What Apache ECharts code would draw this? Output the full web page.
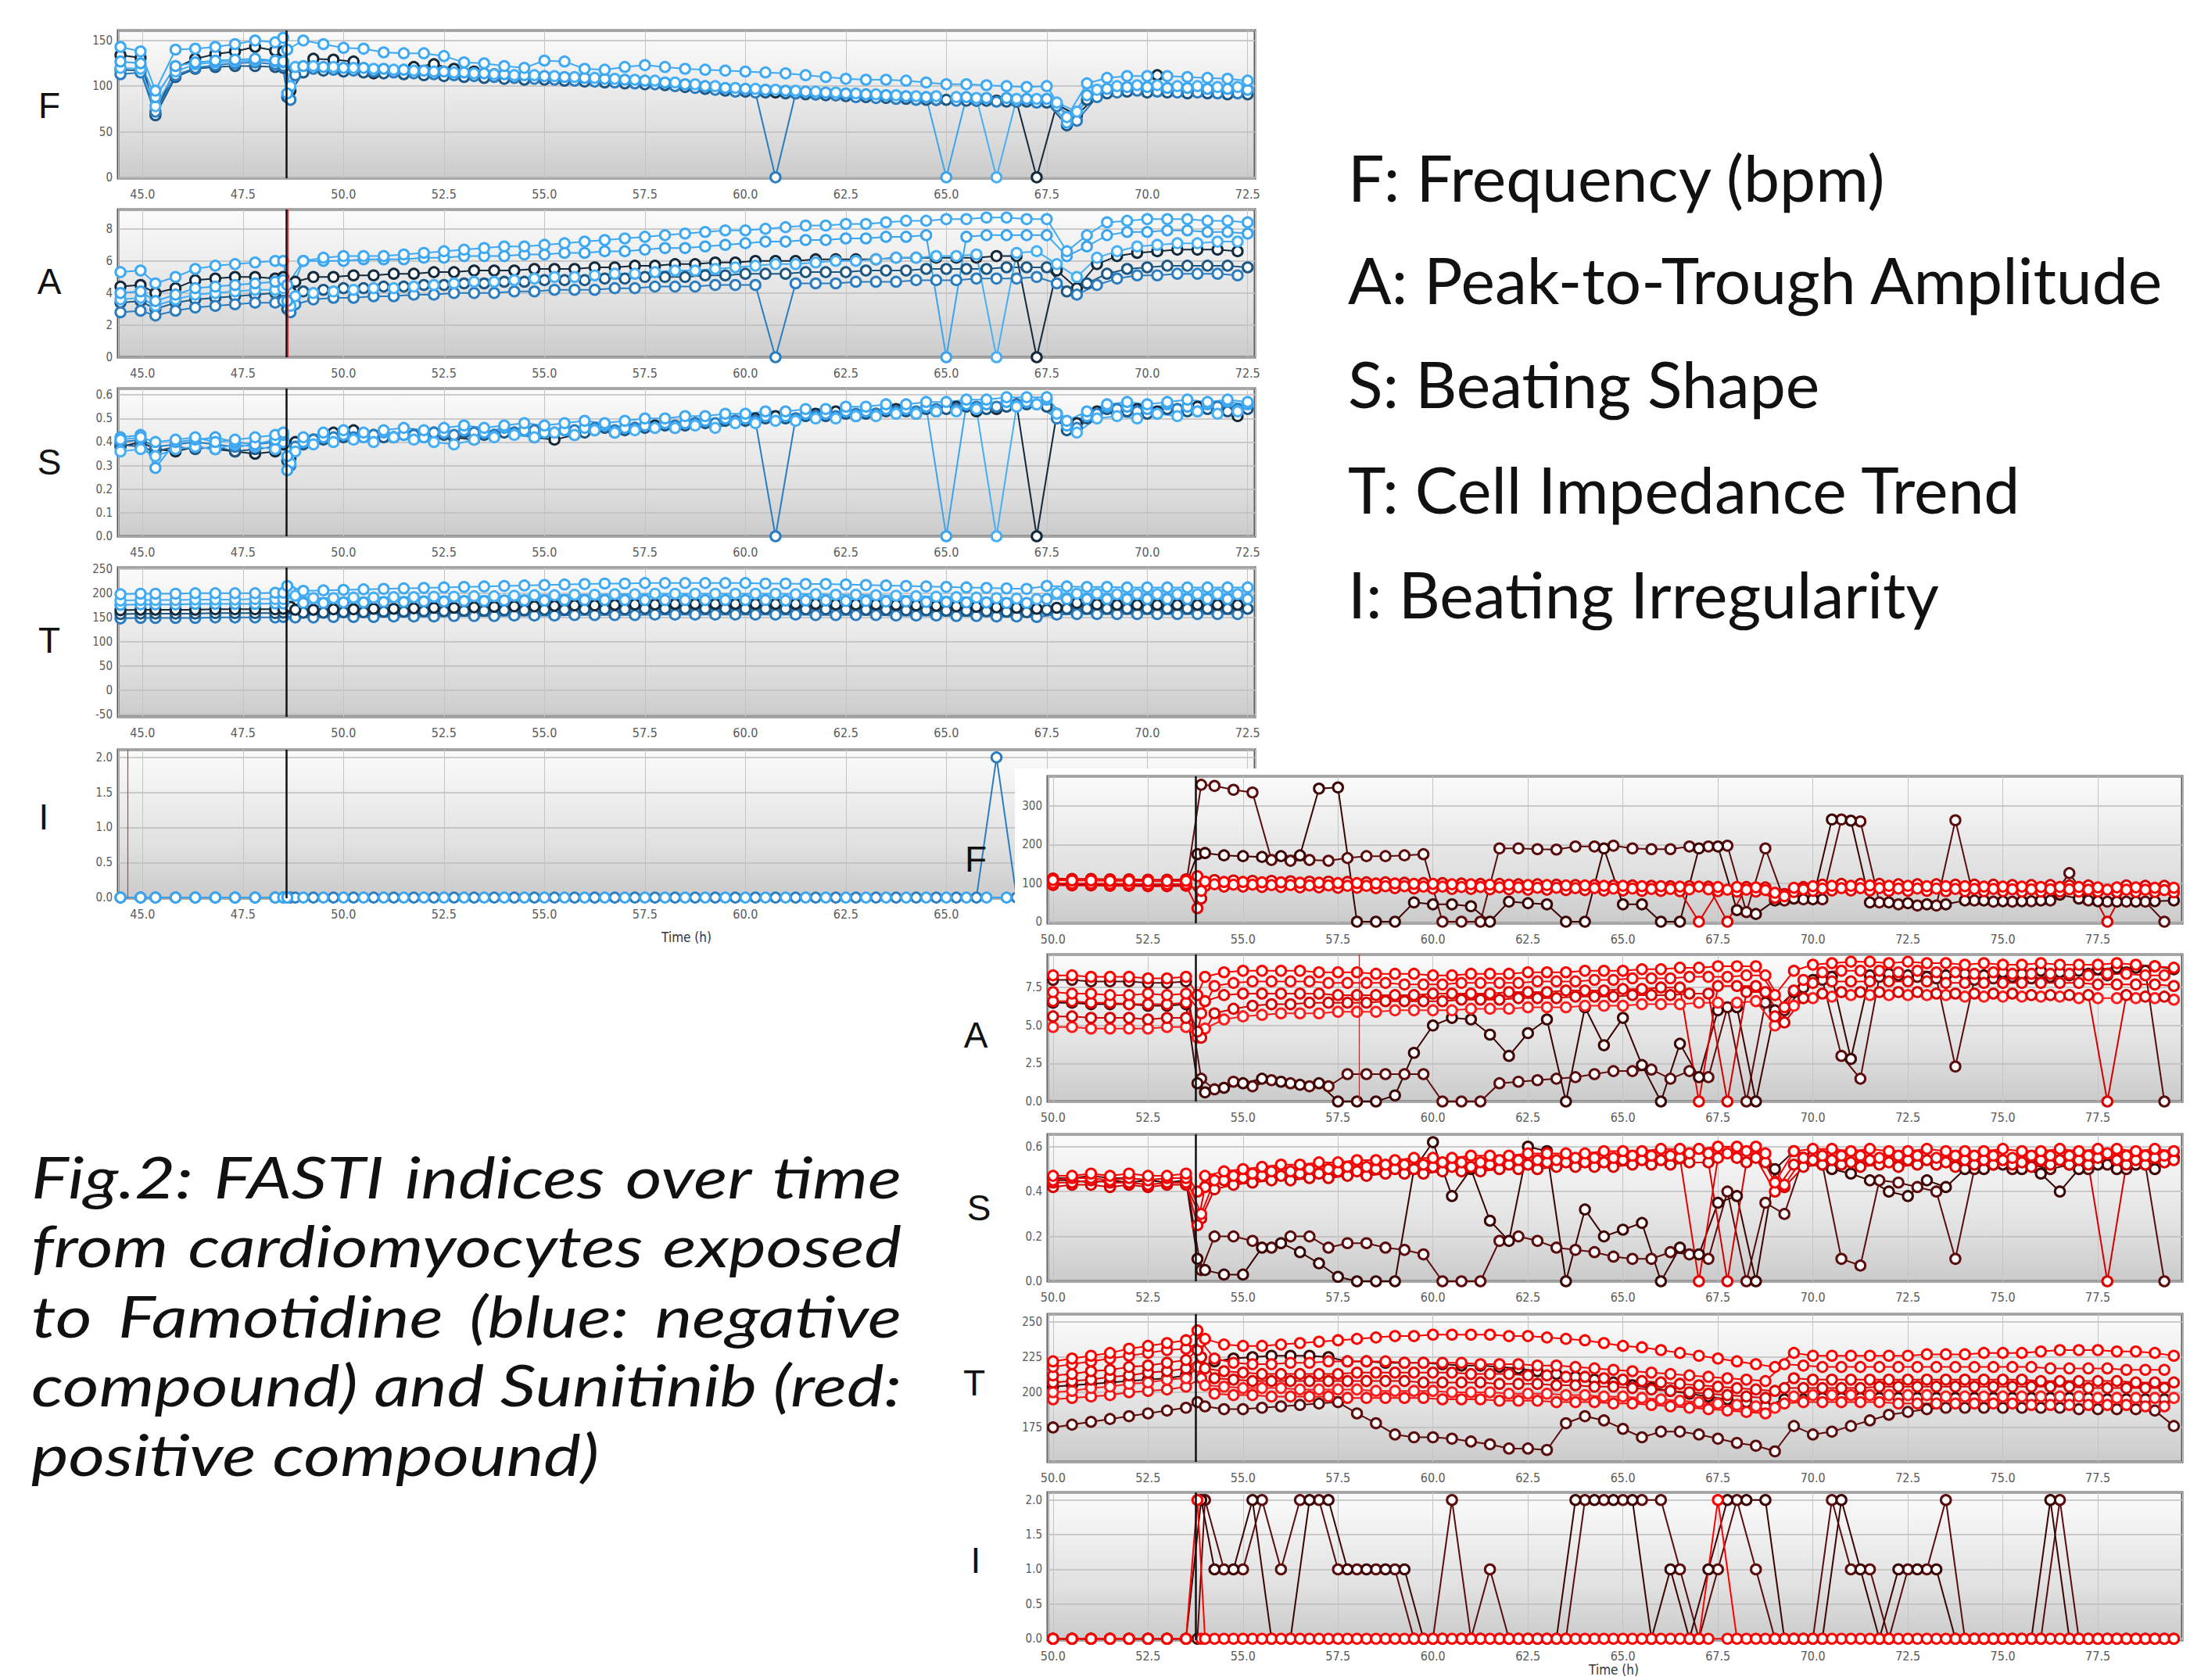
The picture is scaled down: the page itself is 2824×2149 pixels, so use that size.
<!DOCTYPE html>
<html>
<head>
<meta charset="utf-8">
<title>FASTI indices over time</title>
<script src="https://cdn.jsdelivr.net/npm/echarts@6/dist/echarts.min.js"></script>
<style>
  html, body { margin: 0; padding: 0; background: #fff; }
  #page { position: relative; width: 2824px; height: 2149px; overflow: hidden; background: #fff; }
  #chartBlue { position: absolute; left: 0; top: 0; width: 2824px; height: 2149px; }
  /* the red figure sits on top of the blue one, on a white card */
  #cover { position: absolute; left: 1298px; top: 983px; width: 1526px; height: 1166px; background: #fff; }
  #chartRed { position: absolute; left: 1230px; top: 970px; width: 1594px; height: 1179px; }
</style>
</head>
<body>
<div id="page">
  <div id="chartBlue"></div>
  <div id="cover"></div>
  <div id="chartRed"></div>
</div>
<script>
// ---------- time points (h) ----------
const blueT1 = [44.45,44.95,45.32,45.82,46.31,46.81,47.3,47.8,48.3,48.5,
  48.6,49,49.5,50,50.5,51,51.5,52,52.5,53,
  53.5,54,54.5,55,55.5,56,56.5,57,57.5,58,
  58.5,59,59.5,60,60.5,61,61.5,62,62.5,63,
  63.5,64,64.5,65,65.5,66,66.5,67,67.5,68,
  68.5,69,69.5,70,70.5,71,71.5,72,72.5];
const blueT2 = [44.45,44.95,45.32,45.82,46.31,46.81,47.3,47.8,48.3,48.5,
  48.68,48.8,49.25,49.75,50.25,50.75,51.25,51.75,52.25,52.75,
  53.25,53.75,54.25,54.75,55.25,55.75,56.25,56.75,57.25,57.75,
  58.25,58.75,59.25,59.75,60.25,60.75,61.25,61.75,62.25,62.75,
  63.25,63.75,64.25,64.75,65.25,65.75,66.25,66.75,67.25,67.75,
  68.25,68.75,69.25,69.75,70.25,70.75,71.25,71.75,72.25];
const redT1 = [50,50.5,51,51.5,52,52.5,53,53.5,53.8,
  54,54.5,55,55.5,56,56.5,57,57.5,58,58.5,
  59,59.5,60,60.5,61,61.5,62,62.5,63,63.5,
  64,64.5,65,65.5,66,66.5,67,67.5,68,68.5,
  69,69.5,70,70.5,71,71.5,72,72.5,73,73.5,
  74,74.5,75,75.5,76,76.5,77,77.5,78,78.5,
  79,79.5];
const redT2 = [50,50.5,51,51.5,52,52.5,53,53.5,53.9,
  54.25,54.75,55.25,55.75,56.25,56.75,57.25,57.75,58.25,58.75,
  59.25,59.75,60.25,60.75,61.25,61.75,62.25,62.75,63.25,63.75,
  64.25,64.75,65.25,65.75,66.25,66.75,67.25,67.75,68.25,68.75,
  69.25,69.75,70.25,70.75,71.25,71.75,72.25,72.75,73.25,73.75,
  74.25,74.75,75.25,75.75,76.25,76.75,77.25,77.75,78.25,78.75,
  79.25];

// ---------- Famotidine (blue) ----------
// F: frequency (bpm)
const bF_navy = [134,131,70,120,130,135,138,143,139,138,
  95,118,130,129,127,114,116,121,124,119,
  116,113,111,110,109,108,106,105,104,103,
  101,99,97,95,94,93,92,91,90,89,
  88,87,86,85,85,84,84,83,0,80,
  68,90,95,98,112,97,96,95,94];
const bF_dark = [118,117,68,110,119,121,122,122,121,120,
  88,115,117,116,115,114,113,112,111,110,
  109,108,107,107,106,105,104,103,102,101,
  99,97,95,94,93,92,91,90,89,88,
  87,86,85,85,84,84,83,83,82,57,
  85,92,94,93,93,92,92,91,91];
const bF_med = [113,115,72,112,120,123,125,126,124,122,
  85,112,119,118,117,116,115,114,113,112,
  111,110,109,108,107,106,105,104,103,102,
  100,98,96,94,93,0,92,91,90,88,
  87,86,85,85,84,84,83,83,82,78,
  62,88,93,95,94,93,93,92,92];
const bF_lightA = [127,125,88,122,126,128,129,130,128,127,
  92,122,121,120,120,119,118,117,116,115,
  114,113,112,111,110,109,108,107,106,104,
  102,100,98,97,96,95,94,93,92,91,
  90,89,88,0,88,87,87,86,86,60,
  90,97,99,99,98,98,97,97,96];
const bF_lightB = [120,119,78,116,124,126,127,128,127,126,
  100,121,122,121,120,119,118,117,116,115,
  114,113,112,112,111,110,109,108,107,106,
  104,102,100,98,97,96,95,94,93,92,
  91,90,89,89,88,87,0,86,86,82,
  72,96,100,101,101,100,100,99,99];
const bF_top = [143,138,95,140,141,143,146,150,148,153,
  140,150,146,142,141,137,136,136,133,126,
  125,122,120,128,127,119,118,121,123,121,
  119,118,117,116,115,114,112,110,108,107,
  107,106,104,102,102,101,100,99,100,66,
  103,109,111,111,111,110,109,108,106];

// A: peak-to-trough amplitude
const bA_navy = [4.4,4.5,4.0,4.3,4.8,4.9,5.0,5.0,4.9,5.0,
  4.1,4.7,5.0,5.0,5.1,5.1,5.2,5.2,5.3,5.3,
  5.4,5.4,5.4,5.5,5.5,5.5,5.6,5.6,5.7,5.7,
  5.8,5.8,5.9,5.9,6.0,6.0,6.0,6.1,6.1,6.1,
  6.1,6.2,6.2,6.2,6.2,6.2,6.3,6.3,0,5.4,
  4.3,5.8,6.3,6.5,6.6,6.7,6.7,6.7,6.6];
const bA_dark = [3.4,3.5,3.0,3.4,3.6,3.7,3.8,3.9,4.0,4.1,
  3.0,4.1,4.2,4.3,4.3,4.4,4.4,4.5,4.5,4.6,
  4.6,4.7,4.7,4.8,4.8,4.8,4.9,4.9,5.0,5.0,
  5.0,5.1,5.1,5.2,5.2,5.2,5.3,5.3,5.3,5.4,
  5.4,5.4,5.5,5.5,5.5,5.5,5.6,5.6,5.6,4.1,
  4.6,5.2,5.5,5.6,5.7,5.7,5.7,5.7,5.6];
const bA_med = [2.8,2.9,2.6,2.9,3.1,3.2,3.3,3.4,3.4,3.5,
  2.8,3.3,3.6,3.7,3.7,3.8,3.8,3.9,3.9,4.0,
  4.0,4.0,4.1,4.1,4.2,4.2,4.2,4.3,4.3,4.4,
  4.4,4.4,4.5,4.5,4.5,0,4.6,4.6,4.6,4.7,
  4.7,4.7,4.8,4.8,4.8,4.9,4.9,4.9,5.0,4.6,
  3.9,4.5,4.9,5.1,5.1,5.2,5.2,5.2,5.1];
const bA_lightA = [4.0,4.1,3.5,3.9,4.3,4.4,4.5,4.6,4.7,4.8,
  3.5,6.0,6.0,6.0,6.1,6.1,6.1,6.2,6.2,6.3,
  6.3,6.3,6.4,6.4,6.5,6.5,6.6,6.6,6.7,6.8,
  6.8,6.9,7.0,7.1,7.2,7.2,7.3,7.3,7.4,7.4,
  7.5,7.5,7.6,0,7.5,7.6,7.6,7.6,7.6,6.3,
  6.9,7.6,7.8,7.8,7.9,7.9,7.8,7.8,7.7];
const bA_lightB = [3.6,3.7,3.2,3.6,3.9,4.0,4.1,4.2,4.2,4.3,
  3.2,3.8,4.0,4.1,4.2,4.3,4.3,4.4,4.5,4.6,
  4.7,4.7,4.8,4.9,5.0,5.0,5.1,5.2,5.2,5.3,
  5.4,5.4,5.5,5.6,5.7,5.8,5.8,5.9,6.0,6.0,
  6.1,6.2,6.2,6.3,6.3,6.4,0,6.5,6.6,5.8,
  5.0,6.2,6.6,6.9,7.0,7.1,7.1,7.2,7.2];
const bA_top = [5.3,5.4,4.6,5.0,5.5,5.7,5.8,5.9,6.0,6.0,
  4.5,6.0,6.2,6.3,6.3,6.3,6.4,6.5,6.6,6.7,
  6.8,6.9,6.9,7.0,7.1,7.2,7.3,7.4,7.5,7.6,
  7.7,7.8,7.9,7.9,8.0,8.1,8.2,8.2,8.3,8.3,
  8.4,8.5,8.5,8.6,8.6,8.7,8.7,8.6,8.6,6.6,
  7.6,8.4,8.5,8.6,8.6,8.6,8.5,8.5,8.4];

// S: beating shape
const bS_navy = [.38,.40,.37,.36,.38,.37,.36,.35,.36,.39,
  .33,.40,.41,.44,.45,.43,.42,.43,.44,.42,
  .41,.43,.44,.42,.41,.43,.45,.44,.46,.47,
  .46,.48,.47,.49,.50,.51,.50,.52,.53,.51,
  .52,.54,.52,.53,.55,.53,.54,.56,0,.52,
  .48,.53,.52,.54,.53,.54,.55,.53,.51];
const bS_dark = [.39,.38,.36,.38,.37,.38,.36,.37,.38,.40,
  .32,.39,.41,.42,.43,.42,.43,.44,.43,.44,
  .43,.44,.45,.44,.45,.44,.46,.45,.46,.47,
  .47,.48,.49,.49,.50,.50,.51,.51,.52,.52,
  .53,.53,.54,.54,.55,.54,.55,.56,.55,.45,
  .50,.54,.53,.52,.54,.53,.54,.53,.54];
const bS_med = [.40,.41,.38,.39,.40,.39,.38,.39,.40,.41,
  .30,.38,.41,.42,.42,.43,.42,.43,.44,.43,
  .44,.43,.44,.45,.44,.45,.46,.45,.46,.46,
  .47,.48,.48,.49,.49,0,.50,.51,.51,.52,
  .52,.53,.53,.54,.54,.55,.55,.56,.56,.50,
  .46,.52,.54,.53,.52,.54,.53,.55,.54];
const bS_lightA = [.42,.43,.29,.40,.41,.42,.40,.39,.41,.43,
  .28,.40,.42,.43,.42,.44,.43,.42,.44,.45,
  .44,.46,.45,.44,.45,.46,.47,.46,.47,.48,
  .48,.49,.50,.50,.51,.51,.52,.52,.53,.53,
  .54,.54,.55,0,.56,.56,.57,.57,.58,.47,
  .51,.55,.55,.54,.56,.55,.56,.57,.56];
const bS_lightB = [.36,.37,.34,.37,.38,.37,.39,.38,.37,.40,
  .31,.36,.39,.40,.41,.40,.42,.41,.40,.39,
  .41,.42,.43,.42,.44,.43,.45,.44,.45,.46,
  .46,.47,.46,.48,.48,.49,.49,.50,.50,.51,
  .51,.52,.52,.53,.53,.54,0,.55,.56,.52,
  .44,.50,.51,.50,.52,.51,.53,.52,.53];
const bS_top = [.41,.42,.40,.41,.42,.40,.41,.42,.43,.44,
  .34,.42,.44,.45,.44,.45,.46,.45,.46,.47,
  .46,.47,.48,.47,.48,.49,.48,.49,.50,.50,
  .51,.51,.52,.52,.53,.53,.54,.54,.55,.55,
  .56,.56,.57,.57,.58,.58,.59,.59,.59,.49,
  .53,.56,.57,.56,.57,.58,.57,.58,.57];

// T: cell impedance trend
const bT_top = [198,199,199,199,200,200,200,200,201,201,
  215,205,206,207,208,209,210,211,212,213,
  214,215,216,217,218,219,220,220,221,221,
  221,221,221,221,220,220,219,219,218,217,
  216,215,214,213,212,211,210,209,215,214,
  213,213,212,212,212,212,212,212,212];
const bT_lightB = [185,186,186,186,187,187,187,188,188,188,
  205,195,190,190,191,191,192,192,193,193,
  194,194,195,196,196,197,197,198,198,199,
  199,199,199,199,199,199,198,198,197,197,
  196,195,194,193,192,191,190,189,188,200,
  199,199,198,198,198,198,198,198,198];
const bT_lightA = [176,177,177,177,178,178,178,178,179,179,
  200,180,180,181,181,182,182,183,183,184,
  184,185,185,185,186,186,186,186,186,186,
  186,186,186,186,186,185,185,185,184,184,
  183,183,182,182,181,181,180,180,188,188,
  188,188,188,188,188,188,188,188,188];
const bT_navy = [165,166,166,166,166,167,167,167,167,168,
  172,166,166,167,167,168,168,169,170,170,
  171,172,173,173,174,175,175,176,177,177,
  178,178,178,178,178,178,178,178,177,177,
  177,176,175,174,173,172,171,170,168,170,
  180,177,176,176,176,176,176,176,176];
const bT_dark = [157,158,158,158,158,159,159,159,159,160,
  168,160,160,161,161,162,162,163,163,164,
  164,165,165,166,166,167,167,167,168,168,
  168,168,168,168,168,168,167,167,167,166,
  166,165,165,164,164,163,162,161,166,168,
  168,168,168,168,168,168,168,168,168];
const bT_med = [148,149,149,149,149,150,150,150,150,151,
  160,150,150,151,151,151,152,152,152,153,
  153,153,154,154,154,155,155,155,155,156,
  156,156,156,156,156,156,156,155,155,155,
  155,154,154,154,153,153,152,152,151,156,
  157,157,157,157,157,157,157,157,157];

// I: beating irregularity
const bI_a = [0,0,0,0,0,0,0,0,0,0,
  0,0,0,0,0,0,0,0,0,0,
  0,0,0,0,0,0,0,0,0,0,
  0,0,0,0,0,0,0,0,0,0,
  0,0,0,0,0,0,0,0,0,0,
  0,0,0,0,0,0,0,0,0];
const bI_b = [0,0,0,0,0,0,0,0,0,0,
  0,0,0,0,0,0,0,0,0,0,
  0,0,0,0,0,0,0,0,0,0,
  0,0,0,0,0,0,0,0,0,0,
  0,0,0,0,0,0,2,0,0,0,
  0,0,0,0,0,0,0,0,0];

// ---------- Sunitinib (red) ----------
const rF_1 = [108,107,107,106,106,105,105,106,118,
  104,103,103,102,102,101,101,100,100,99,
  99,98,98,97,97,96,96,95,95,94,
  94,93,93,92,92,91,91,90,90,89,
  75,88,92,93,93,94,93,93,92,92,
  92,91,91,91,90,90,90,89,89,89,
  88,88];
const rF_2 = [100,99,99,98,98,97,97,98,80,
  97,96,96,95,95,94,94,93,93,92,
  92,91,91,90,90,89,89,88,88,87,
  87,86,86,85,85,84,84,83,83,82,
  66,84,86,87,87,87,86,86,86,85,
  85,85,84,84,84,84,83,83,83,83,
  82];
const rF_3 = [95,94,94,93,93,92,92,93,35,
  92,91,91,90,90,89,89,88,88,87,
  87,86,86,85,85,84,84,83,83,82,
  82,81,81,80,80,79,0,79,78,78,
  62,77,80,81,81,81,80,80,80,79,
  79,79,79,78,78,78,78,78,77,77,
  77,76];
const rF_4 = [112,111,111,110,110,109,109,110,60,
  108,107,106,106,105,104,104,103,102,102,
  101,100,100,99,98,98,97,97,96,95,
  95,94,94,93,92,92,91,0,90,89,
  72,90,96,98,98,98,97,97,97,96,
  96,96,95,95,95,94,94,0,94,93,
  93];
const rF_dA = [98,97,96,97,96,95,96,95,355,
  352,342,335,160,158,160,158,165,170,170,
  172,175,0,0,0,190,190,188,187,195,
  195,197,190,188,188,195,195,197,25,190,
  55,58,58,265,260,50,45,42,42,263,
  55,52,52,53,55,126,55,52,52,52,
  0];
const rF_dB = [99,98,97,98,97,96,97,96,175,
  178,172,170,168,170,172,345,348,0,0,
  0,50,45,45,40,0,52,48,45,0,
  0,190,45,45,0,0,190,195,30,20,
  55,60,58,265,262,50,50,48,45,45,
  55,55,53,53,55,70,60,53,52,52,
  53,55];

const rA_1 = [8.3,8.3,8.2,8.2,8.2,8.1,8.1,8.2,7.0,
  8.2,8.5,8.6,8.6,8.6,8.6,8.5,8.5,8.5,8.4,
  8.4,8.4,8.3,8.3,8.4,8.4,8.4,8.5,8.5,8.5,
  8.6,8.6,8.6,8.7,8.7,8.8,8.8,8.9,8.9,8.9,
  7.0,8.6,9.0,9.1,9.2,9.2,9.1,9.2,9.1,9.1,
  9.0,9.1,9.0,9.0,9.1,9.0,9.0,9.0,9.1,9.0,
  8.9,8.8];
const rA_2 = [7.2,7.1,7.1,7.0,7.0,7.1,7.0,7.1,5.8,
  7.6,7.8,7.9,7.9,7.9,7.9,7.8,7.8,7.8,7.8,
  7.7,7.7,7.7,7.8,7.8,7.8,7.8,7.9,7.9,7.9,
  8.0,8.0,8.1,8.1,8.1,8.2,8.2,8.2,8.3,8.3,
  6.2,8.0,8.5,8.6,8.6,8.6,8.5,8.6,8.5,8.5,
  8.4,8.5,8.4,8.4,8.4,8.4,8.3,8.4,8.4,8.3,
  8.3];
const rA_3 = [6.6,6.6,6.5,6.5,6.4,6.4,6.4,6.5,4.6,
  6.6,7.0,7.1,7.1,7.1,7.1,7.1,7.0,7.0,7.0,
  7.0,7.0,7.1,7.1,7.1,7.1,7.2,7.2,7.2,7.3,
  7.3,7.3,7.4,7.4,7.5,7.5,0,7.6,7.6,7.6,
  5.6,7.3,7.8,7.9,7.9,7.9,7.9,7.9,7.9,7.8,
  7.8,7.8,7.8,7.8,7.8,7.8,7.8,7.7,7.7,7.7,
  7.7,7.6];
const rA_4 = [5.6,5.6,5.5,5.5,5.5,5.4,5.5,5.5,4.2,
  5.8,6.1,6.3,6.4,6.4,6.5,6.5,6.5,6.5,6.6,
  6.6,6.6,6.6,6.7,6.7,6.7,6.8,6.8,6.8,6.9,
  6.9,6.9,7.0,7.0,7.0,7.1,7.1,0,7.2,7.2,
  5.2,6.8,7.1,7.2,7.2,7.2,7.2,7.2,7.1,7.1,
  7.1,7.1,7.1,7.0,7.0,7.0,7.0,0,7.0,6.9,
  6.9];
const rA_5 = [4.9,4.9,4.8,4.8,4.8,4.8,4.9,4.9,4.2,
  4.8,5.4,5.6,5.7,5.8,5.8,5.8,5.9,5.9,5.9,
  6.0,6.0,6.0,6.0,6.1,6.1,6.1,6.2,6.2,6.2,
  6.3,6.3,6.3,6.4,6.4,6.4,6.5,6.5,6.5,6.6,
  5.0,6.3,6.8,6.9,7.0,7.0,7.0,7.0,7.0,7.0,
  6.9,6.9,6.9,6.9,6.9,6.9,6.8,6.8,6.8,6.8,
  6.8,6.7];
const rA_dA = [8.0,8.0,7.9,7.9,7.9,7.8,7.8,7.9,1.5,
  0.8,1.3,1.0,1.4,1.2,1.0,1.0,1.8,1.8,1.8,
  1.8,1.8,0,0,0,1.2,1.3,1.4,1.5,1.6,
  1.8,2.0,2.0,2.1,1.5,2.0,1.6,6.2,0,6.5,
  6.0,7.5,8.0,3.0,1.5,8.2,8.3,8.2,8.1,2.3,
  8.0,8.1,8.2,8.1,8.2,8.3,8.4,8.3,8.5,8.6,
  0];
const rA_dB = [6.5,6.5,6.4,6.4,6.4,6.3,6.3,6.4,1.2,
  0.6,0.9,1.2,1.5,1.3,1.1,1.2,0,0,0,
  0.4,3.2,5.0,5.5,5.4,4.4,3.0,4.5,5.4,0,
  6.2,3.7,5.5,2.4,0,3.8,1.6,6.0,6.2,0,
  6.0,7.2,8.0,8.2,2.8,8.3,8.4,8.3,8.2,8.3,
  8.4,8.3,8.5,8.4,8.6,8.5,8.6,8.7,8.8,8.8,
  8.9,8.7];

const rS_1 = [.47,.47,.48,.47,.48,.47,.47,.48,.40,
  .47,.49,.50,.51,.52,.52,.53,.53,.54,.54,
  .54,.55,.55,.55,.56,.56,.56,.57,.57,.57,
  .57,.58,.58,.58,.59,.59,.59,.60,.60,.60,
  .44,.58,.59,.59,.58,.59,.58,.58,.59,.58,
  .58,.58,.59,.58,.58,.59,.58,.59,.59,.58,
  .59,.58];
const rS_2 = [.45,.46,.46,.45,.46,.45,.46,.46,.30,
  .45,.47,.48,.49,.49,.50,.50,.51,.51,.52,
  .52,.52,.53,.53,.53,.54,.54,.54,.54,.55,
  .55,.55,.56,.56,.56,.57,.57,.57,.58,.57,
  .43,.55,.56,.56,.56,.55,.56,.56,.55,.56,
  .56,.56,.55,.56,.56,.56,.56,.57,.56,.56,
  .56];
const rS_3 = [.44,.44,.45,.44,.44,.43,.44,.44,.25,
  .42,.45,.46,.47,.47,.48,.48,.49,.49,.50,
  .50,.50,.51,.51,.51,.52,.52,.52,.53,.53,
  .53,.53,.54,.54,.54,.55,0,.55,.55,.55,
  .40,.52,.54,.54,.53,.54,.53,.54,.54,.53,
  .54,.54,.54,.53,.54,.54,.54,.55,.54,.54,
  .55,.54];
const rS_4 = [.42,.43,.43,.42,.43,.42,.43,.43,.28,
  .41,.43,.44,.45,.45,.46,.46,.47,.47,.48,
  .48,.48,.49,.49,.49,.50,.50,.50,.51,.51,
  .51,.51,.52,.52,.52,.53,.53,0,.53,.53,
  .42,.51,.52,.52,.51,.52,.51,.52,.52,.51,
  .52,.52,.52,.51,.52,.52,.52,0,.52,.52,
  .53];
const rS_dA = [.46,.46,.47,.46,.46,.45,.46,.46,.05,
  .20,.20,.18,.15,.20,.20,.15,.17,.17,.15,
  .14,.12,0,0,0,.18,.20,.18,.15,.14,
  .13,.11,.10,.10,.13,.12,.10,.40,0,.35,
  .30,.55,.52,.10,.07,.45,.44,.42,.40,.10,
  .50,.52,.50,.52,.50,.52,.50,.52,.50,.52,
  0];
const rS_dB = [.45,.45,.44,.45,.44,.45,.44,.45,.10,
  .05,.03,.03,.15,.17,.13,.08,.02,0,0,
  0,.50,.62,.38,.50,.27,.18,.60,.58,0,
  .32,.20,.23,.26,0,.15,.12,.35,.38,0,
  .50,.58,.56,.50,.48,.45,.40,.38,.45,.42,
  .50,.50,.52,.50,.48,.40,.50,.52,.50,.52,
  .50,.55];

const rT_1 = [222,224,226,228,231,233,235,237,244,
  238,234,233,233,234,235,236,237,238,239,
  240,240,241,241,241,241,240,240,239,238,
  237,235,233,232,230,228,226,224,222,220,
  218,228,226,226,226,226,226,226,227,227,
  227,228,228,228,229,230,230,230,229,229,
  228,226];
const rT_2 = [218,220,222,224,226,228,230,231,236,
  224,221,220,220,221,221,222,222,222,222,
  221,221,221,221,220,220,220,219,219,218,
  217,216,215,214,213,212,211,210,209,208,
  220,219,218,218,218,218,218,218,218,218,
  218,218,218,218,217,217,217,217,216,216,
  216];
const rT_3 = [212,213,215,216,218,219,221,223,230,
  217,215,214,213,213,213,213,213,214,214,
  214,214,214,214,213,213,213,212,212,211,
  211,210,209,208,207,206,205,204,203,202,
  201,210,209,209,209,209,209,209,209,209,
  209,209,209,209,208,208,208,208,208,207,
  207,207];
const rT_4 = [207,208,209,211,212,214,215,217,225,
  210,209,208,208,208,208,208,208,208,208,
  208,207,207,207,207,206,206,206,205,205,
  204,204,203,202,201,200,199,198,197,196,
  203,203,203,203,203,204,204,204,204,204,
  204,204,204,204,204,204,203,203,203,203,
  203];
const rT_5 = [200,201,203,204,206,207,209,210,218,
  205,204,203,203,203,202,202,202,202,201,
  201,201,201,200,200,200,199,199,199,198,
  198,197,197,196,195,194,193,192,191,190,
  189,197,198,198,198,198,198,198,198,197,
  197,197,197,197,197,197,197,196,196,196,
  196,196];
const rT_6 = [195,196,197,198,200,201,202,204,210,
  199,198,198,197,197,197,197,196,196,196,
  196,196,195,195,195,194,194,194,193,193,
  193,192,192,191,190,189,188,187,186,185,
  192,193,193,193,193,193,192,192,192,192,
  192,192,192,191,191,191,191,191,191,190,
  190];
const rT_dA = [175,177,179,181,183,185,187,189,193,
  190,188,188,189,190,191,192,193,185,178,
  170,168,168,167,165,163,160,160,159,178,
  183,180,174,168,172,172,170,167,164,162,
  158,176,170,172,176,180,184,186,188,189,
  189,189,189,189,189,189,188,188,188,188,
  187,176];
const rT_dB = [204,205,206,207,208,209,210,212,218,
  222,224,225,226,226,226,225,222,222,221,
  221,221,220,219,219,218,217,215,213,211,
  209,207,205,203,201,199,197,195,193,190,
  195,195,196,196,196,196,196,196,196,196,
  196,196,196,196,196,196,196,195,195,195,
  195];

const rI_1 = [0,0,0,0,0,0,0,0,2,
  0,0,0,0,0,0,0,0,0,0,
  0,0,0,0,0,0,0,0,0,0,
  0,0,0,0,0,0,0,2,0,0,
  0,0,0,0,0,0,0,0,0,0,
  0,0,0,0,0,0,0,0,0,0,
  0,0];
const rI_2 = [0,0,0,0,0,0,0,0,0,
  0,0,0,0,0,0,0,0,0,0,
  0,0,0,0,0,0,0,0,0,0,
  0,0,0,0,0,0,0,0,0,0,
  0,0,0,0,0,0,0,0,0,0,
  0,0,0,0,0,0,0,0,0,0,
  0];
const rI_dA = [0,0,0,0,0,0,0,0,0,
  2,1,1,2,1,2,2,1,1,1,
  1,0,0,2,0,1,0,0,0,0,
  2,2,2,2,2,1,0,1,2,1,
  0,0,0,2,1,1,0,1,1,2,
  0,0,0,0,0,2,0,0,0,0,
  0,0];
const rI_dB = [0,0,0,0,0,0,0,0,2,
  1,1,2,0,0,2,2,1,1,1,
  1,0,0,0,0,0,0,0,0,2,
  2,2,2,0,1,0,1,2,2,2,
  0,0,0,2,1,0,1,1,1,0,
  0,0,0,0,2,0,0,0,0,0,
  0];

// ---------- texts ----------
const panelLetters = ['F', 'A', 'S', 'T', 'I'];
const sideLabels = ['F: Frequency (bpm)', 'A: Peak-to-Trough Amplitude', 'S: Beating Shape',
  'T: Cell Impedance Trend', 'I: Beating Irregularity'];
const captionLines = ['Fig.2: FASTI indices over time', 'from cardiomyocytes exposed',
  'to Famotidine (blue: negative', 'compound) and Sunitinib (red:', 'positive compound)'];

// ---------- styling helpers ----------
const LABEL_FONT = "'Liberation Sans Narrow','DejaVu Sans Condensed',sans-serif";
const TEXT_FONT = "Lato,'Open Sans',sans-serif";
const mismatches = [];

function pairs(name, times, vals) {
  if (times.length !== vals.length) mismatches.push(name + ':' + times.length + '/' + vals.length);
  return vals.map(function (v, i) { return [times[i], v]; });
}

// label only on multiples of the step (edges of the axis get no label)
function onStep(step, dec, upTo) {
  return function (v) {
    if (upTo != null && v > upTo) return '';
    const k = v / step;
    return Math.abs(k - Math.round(k)) < 1e-6 ? v.toFixed(dec) : '';
  };
}

function panelBg() {
  return new echarts.graphic.LinearGradient(0, 0, 0, 1, [
    { offset: 0, color: '#fbfbfb' },
    { offset: 0.3, color: '#efefef' },
    { offset: 0.65, color: '#e0e0e0' },
    { offset: 1, color: '#cbcbcb' }
  ]);
}

function makeGrid(left, top, width, height) {
  return {
    left: left, top: top, width: width, height: height,
    show: true, backgroundColor: panelBg(),
    borderColor: '#595959', borderWidth: 3,
    containLabel: false, outerBoundsMode: 'none'
  };
}

function makeX(gi, min, max, upTo) {
  return {
    type: 'value', gridIndex: gi, min: min, max: max,
    minInterval: 2.5, maxInterval: 2.5, splitNumber: 12,
    axisLine: { show: false }, axisTick: { show: false },
    splitLine: { show: true, lineStyle: { color: '#c4c4c4', width: 1 } },
    axisLabel: { formatter: onStep(2.5, 1, upTo), color: '#5a5a5a', fontSize: 16, fontFamily: LABEL_FONT, margin: 12 }
  };
}

function makeY(gi, ax) {
  return {
    type: 'value', gridIndex: gi, min: ax.min, max: ax.max,
    minInterval: ax.step, maxInterval: ax.step, splitNumber: Math.round((ax.max - ax.min) / ax.step),
    axisLine: { show: false }, axisTick: { show: false },
    splitLine: { show: true, lineStyle: { color: '#bcbcbc', width: 1.5 } },
    axisLabel: { formatter: onStep(ax.step, ax.dec), color: '#5a5a5a', fontSize: 15, fontFamily: LABEL_FONT, margin: 7 }
  };
}

function lineSeries(name, gi, times, vals, color) {
  return {
    name: name, type: 'line', xAxisIndex: gi, yAxisIndex: gi,
    data: pairs(name, times, vals),
    symbol: 'circle', symbolSize: 12.5, showSymbol: true, showAllSymbol: true,
    lineStyle: { color: color, width: 2 },
    itemStyle: { color: '#fff', borderColor: color, borderWidth: 3 },
    emphasis: { disabled: true }, silent: true, animation: false
  };
}

function vLines(list) {
  return {
    silent: true, symbol: ['none', 'none'], label: { show: false }, animation: false,
    data: list.map(function (d) { return { xAxis: d[0], lineStyle: { color: d[1], width: d[2], type: 'solid' } }; })
  };
}

function textEl(str, x, y, size, opts) {
  opts = opts || {};
  return {
    type: 'text', x: x, y: y, silent: true,
    scaleX: opts.scaleX || 1, originX: 0, originY: 0,
    style: {
      text: str, fill: opts.fill || '#111',
      fontSize: size, fontFamily: opts.family || TEXT_FONT, fontStyle: opts.style || 'normal',
      lineHeight: opts.lineHeight || Math.round(size * 1.1),
      align: opts.align || 'left', textAlign: opts.align || 'left',
      verticalAlign: 'middle', textVerticalAlign: 'middle'
    }
  };
}

const measureCtx = document.createElement('canvas').getContext('2d');
function textWidth(str, font) { measureCtx.font = font; return measureCtx.measureText(str).width; }

// ---------- colours ----------
const C = { navy: '#132a3c', dark: '#1d5783', med: '#2b7dc0', lightA: '#3aa5ee', lightB: '#47aff5', top: '#3fa9f4' };
const R = { r1: '#ff0000', r2: '#f20a0a', r3: '#e60000', r4: '#d50000', r5: '#ff1c1c', r6: '#f21010', dA: '#5b0c0c', dB: '#3d0404' };

// =============== blue figure ===============
const blueLeft = 151, blueWidth = 1454;
const blueTops = [39, 268, 497, 726, 959];
const blueHeights = [189, 189, 189, 191, 190];
const blueY = [
  { min: -1, max: 161, step: 50, dec: 0 },
  { min: 0, max: 9.2, step: 2, dec: 0 },
  { min: 0, max: 0.627, step: 0.1, dec: 1 },
  { min: -55, max: 253, step: 50, dec: 0 },
  { min: -0.01, max: 2.11, step: 0.5, dec: 1 }
];

const blueSeries = [];
function addBlue(gi, defs, lines) {
  defs.forEach(function (d, k) {
    const s = lineSeries('b' + gi + '_' + k, gi, d[0], d[1], d[2]);
    if (k === 0) s.markLine = vLines(lines);
    blueSeries.push(s);
  });
}
const blackB = [48.58, '#111', 2.5];
addBlue(0, [[blueT2, bF_navy, C.navy], [blueT1, bF_dark, C.dark], [blueT2, bF_med, C.med],
  [blueT2, bF_lightB, C.lightB], [blueT1, bF_lightA, C.lightA], [blueT1, bF_top, C.top]], [blackB]);
addBlue(1, [[blueT2, bA_navy, C.navy], [blueT1, bA_dark, C.dark], [blueT2, bA_med, C.med],
  [blueT2, bA_lightB, C.lightB], [blueT1, bA_lightA, C.lightA], [blueT1, bA_top, C.top]],
  [[48.62, '#d33', 1.2], blackB]);
addBlue(2, [[blueT2, bS_navy, C.navy], [blueT1, bS_dark, C.dark], [blueT2, bS_med, C.med],
  [blueT2, bS_lightB, C.lightB], [blueT1, bS_lightA, C.lightA], [blueT1, bS_top, C.top]], [blackB]);
addBlue(3, [[blueT2, bT_med, C.med], [blueT1, bT_dark, C.dark], [blueT2, bT_navy, C.navy],
  [blueT1, bT_lightA, C.lightA], [blueT2, bT_lightB, C.lightB], [blueT1, bT_top, C.top]], [blackB]);
addBlue(4, [[blueT2, bI_b, C.med], [blueT1, bI_a, C.lightA]], [[44.63, '#d33', 1.2], blackB]);

// texts of the left half
const blueGraphics = [];
const letterY = [135, 360, 591, 819, 1045];
panelLetters.forEach(function (l, i) {
  blueGraphics.push(textEl(l, i === 4 ? 56 : 63, letterY[i], 46, { align: 'center', family: "'Liberation Sans',sans-serif" }));
});
blueGraphics.push(textEl('Time (h)', 878, 1199, 17, { align: 'center', family: LABEL_FONT, fill: '#333' }));

// right-hand legend of the indices, sized to the width of the longest line
let sideSize = 74 * 1044 / textWidth(sideLabels[1], '74px ' + TEXT_FONT);
sideSize = Math.max(60, Math.min(86, sideSize));
const sideBase = [258, 389, 522, 657, 791];
sideLabels.forEach(function (t, i) {
  blueGraphics.push(textEl(t, 1724, sideBase[i] - 0.387 * sideSize, sideSize));
});

// caption: justified italic block. The font stays small enough that the line
// boxes do not touch, the glyphs are widened instead (the original face is wide).
const capSize = 73;
const capFont = 'italic ' + capSize + 'px ' + TEXT_FONT;
let capScale = 726 / textWidth(captionLines[4], capFont);
capScale = Math.max(1, Math.min(1.3, capScale));
const capBase = [1533, 1621, 1711, 1799, 1888];
const capLeft = 40, capWidth = 1113;
const capOpts = { style: 'italic', lineHeight: Math.round(capSize * 0.95), scaleX: capScale };
captionLines.forEach(function (line, li) {
  const y = capBase[li] - 0.387 * capSize;
  if (li === captionLines.length - 1) {
    blueGraphics.push(textEl(line, capLeft, y, capSize, capOpts));
    return;
  }
  const words = line.split(' ');
  const ws = words.map(function (w) { return textWidth(w, capFont) * capScale; });
  const total = ws.reduce(function (a, b) { return a + b; }, 0);
  const gap = (capWidth - total) / (words.length - 1);
  let x = capLeft;
  words.forEach(function (w, k) {
    blueGraphics.push(textEl(w, x, y, capSize, capOpts));
    x += ws[k] + gap;
  });
});

const blueChart = echarts.init(document.getElementById('chartBlue'), null, { renderer: 'svg' });
blueChart.setOption({
  animation: false,
  grid: blueTops.map(function (t, i) { return makeGrid(blueLeft, t, blueWidth, blueHeights[i]); }),
  // the lowest blue panel is partly hidden under the red figure: no labels there
  xAxis: blueTops.map(function (t, i) { return makeX(i, 44.39, 72.68, i === 4 ? 66 : null); }),
  yAxis: blueY.map(function (ax, i) { return makeY(i, ax); }),
  series: blueSeries,
  graphic: { elements: blueGraphics }
});

// =============== red figure ===============
const redLeft = 110, redWidth = 1451;
const redTops = [23, 251, 481, 711, 939];
const redHeights = [188, 188, 188, 189, 189];
const redY = [
  { min: -4, max: 377, step: 100, dec: 0 },
  { min: 0, max: 9.67, step: 2.5, dec: 1 },
  { min: 0, max: 0.655, step: 0.2, dec: 1 },
  { min: 150.5, max: 255.6, step: 25, dec: 0 },
  { min: -0.02, max: 2.11, step: 0.5, dec: 1 }
];

const redSeries = [];
function addRed(gi, defs, lines) {
  defs.forEach(function (d, k) {
    const s = lineSeries('r' + gi + '_' + k, gi, d[0], d[1], d[2]);
    if (k === 0) s.markLine = vLines(lines);
    redSeries.push(s);
  });
}
const blackR = [53.76, '#111', 2.5];
addRed(0, [[redT2, rF_dA, R.dA], [redT1, rF_dB, R.dB], [redT2, rF_4, R.r4], [redT1, rF_3, R.r3],
  [redT2, rF_2, R.r2], [redT1, rF_1, R.r1]], [blackR]);
addRed(1, [[redT2, rA_dA, R.dA], [redT1, rA_dB, R.dB], [redT1, rA_5, R.r5], [redT2, rA_4, R.r4],
  [redT1, rA_3, R.r3], [redT2, rA_2, R.r2], [redT1, rA_1, R.r1]], [[58.05, '#b03030', 1.2], blackR]);
addRed(2, [[redT2, rS_dA, R.dA], [redT1, rS_dB, R.dB], [redT2, rS_4, R.r4], [redT1, rS_3, R.r3],
  [redT2, rS_2, R.r2], [redT1, rS_1, R.r1]], [blackR]);
addRed(3, [[redT1, rT_dA, R.dA], [redT2, rT_dB, R.dB], [redT2, rT_6, R.r6], [redT1, rT_5, R.r5],
  [redT2, rT_4, R.r4], [redT1, rT_3, R.r3], [redT2, rT_2, R.r2], [redT1, rT_1, R.r1]], [blackR]);
addRed(4, [[redT1, rI_dA, R.dA], [redT2, rI_dB, R.dB], [redT2, rI_2, R.r2], [redT1, rI_1, R.r1]], [blackR]);

const redGraphics = [];
const redLetterPos = [[18, 129], [18, 354], [22, 575], [16, 799], [18, 1026]];
panelLetters.forEach(function (l, i) {
  redGraphics.push(textEl(l, redLetterPos[i][0], redLetterPos[i][1], 46, { align: 'center', family: "'Liberation Sans',sans-serif" }));
});
redGraphics.push(textEl('Time (h)', 834, 1166, 17, { align: 'center', family: LABEL_FONT, fill: '#333' }));

const redChart = echarts.init(document.getElementById('chartRed'), null, { renderer: 'svg' });
redChart.setOption({
  animation: false,
  grid: redTops.map(function (t, i) { return makeGrid(redLeft, t, redWidth, redHeights[i]); }),
  xAxis: redTops.map(function (t, i) { return makeX(i, 49.86, 79.72); }),
  yAxis: redY.map(function (ax, i) { return makeY(i, ax); }),
  series: redSeries,
  graphic: { elements: redGraphics }
});

if (mismatches.length) throw new Error('length mismatch: ' + mismatches.join(', '));
</script>
</body>
</html>
